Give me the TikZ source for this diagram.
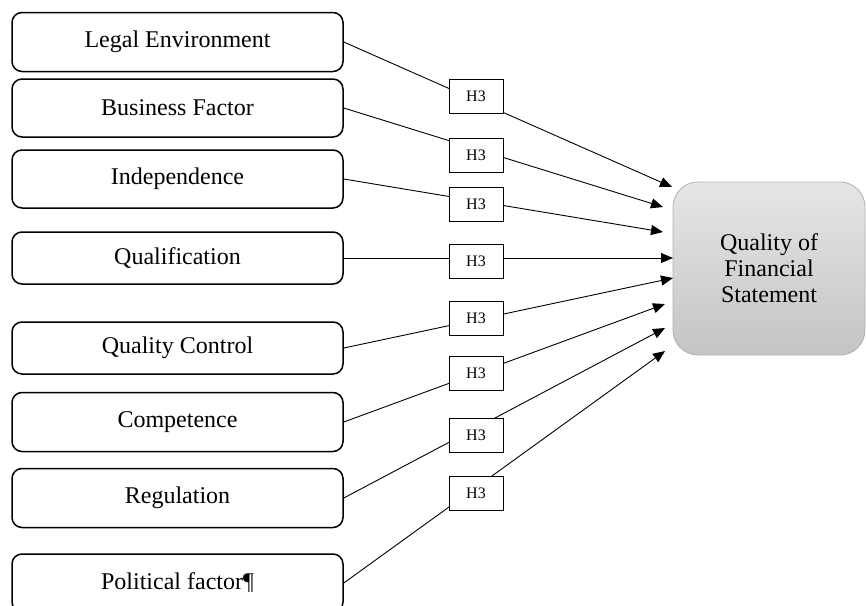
\documentclass[tikz,border=0pt]{standalone}
\usepackage{fontspec}
\setmainfont{Liberation Serif}
\usetikzlibrary{positioning, arrows.meta}

\begin{document}
\begin{tikzpicture}[
    x=1pt, y=-1pt,
    every node/.style={font=\fontsize{24}{26}\selectfont},
    factor/.style={draw, line width=1.5pt, rounded corners=10pt, minimum width=331pt, minimum height=#1, inner sep=0pt},
    hyp/.style={draw, fill=white, line width=0.8pt, minimum width=54pt, minimum height=34pt, inner sep=0pt, font=\fontsize{16}{18}\selectfont},
    outcome/.style={draw=gray!62, line width=0.8pt, rounded corners=25pt, top color=gray!20, bottom color=gray!46, minimum width=192pt, minimum height=173pt, align=center},
    arrow/.style={-{Triangle[length=12pt,width=10pt]}, line width=0.9pt}
]
\useasboundingbox (0,0) rectangle (866,605);
\clip (0,0) rectangle (866,605);

% Factors
\node[factor=59pt] (f1) at (177.5,42) {Legal Environment};
\node[factor=58pt] (f2) at (177.5,108) {Business Factor};
\node[factor=58pt] (f3) at (177.5,179) {Independence};
\node[factor=52pt] (f4) at (177.5,258) {Qualification};
\node[factor=52pt] (f5) at (177.5,348) {Quality Control};
\node[factor=59pt] (f6) at (177.5,422) {Competence};
\node[factor=59pt] (f7) at (177.5,498) {Regulation};
\node[factor=58pt] (f8) at (177.5,583) {Political factor¶};

\node[outcome] (fs) at (769,268.5) {Quality of\\Financial\\Statement};

% Arrow ends
\coordinate (t1) at (672,187);
\coordinate (t2) at (663,207);
\coordinate (t3) at (663,232);
\coordinate (t4) at (673,258);
\coordinate (t5) at (673,278);
\coordinate (t6) at (665,304);
\coordinate (t7) at (665,328);
\coordinate (t8) at (665,351);

\foreach \i in {1,...,8} {
    \draw[arrow] (f\i.east) -- (t\i);
}

% Hypotheses
\foreach \i/\y in {1/96, 2/155, 3/204, 4/261, 5/318, 6/373, 7/435, 8/493} {
    \node[hyp] (h\i) at (476,\y) {H3};
}

\end{tikzpicture}
\end{document}
